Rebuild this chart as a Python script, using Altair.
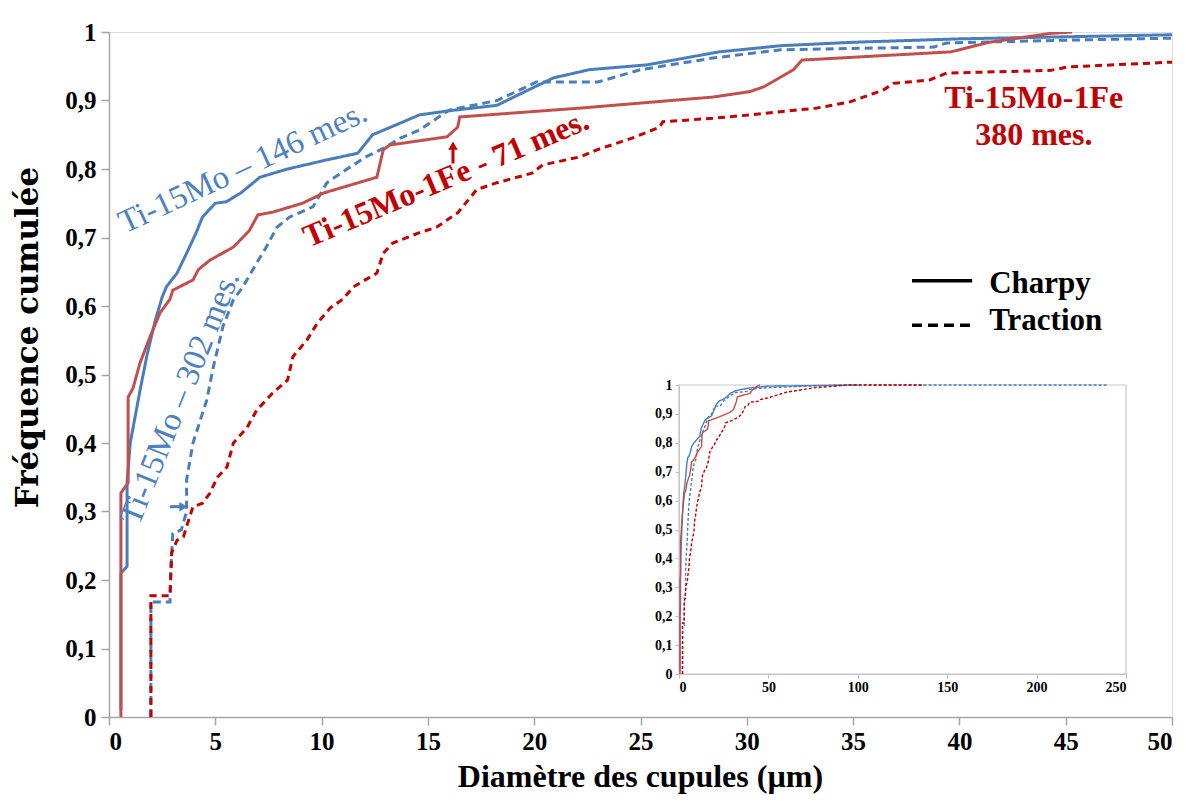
import altair as alt
import pandas as pd

# ---------------- data ----------------
bs_x = [0.56, 0.56, 0.85, 0.85, 1.0, 1.46, 1.8, 2.16, 2.5, 2.7, 3.2, 3.65, 4.1, 4.4, 5.0, 5.5, 6.2, 7.1, 8.4,
        10.2, 11.7, 12.4, 13.7, 14.6, 16.0, 18.25, 19.5, 20.9, 22.6, 25.3, 28.7, 31.6, 35, 40, 45, 50, 100]
bs_y = [0.01, 0.21, 0.22, 0.343, 0.40, 0.477, 0.53, 0.577, 0.613, 0.628, 0.648, 0.677, 0.707, 0.73, 0.75, 0.752,
        0.765, 0.788, 0.80, 0.813, 0.823, 0.85, 0.867, 0.879, 0.885, 0.893, 0.912, 0.933, 0.945, 0.952, 0.971,
        0.98, 0.985, 0.99, 0.993, 0.996, 1.0]

bd_x = [1.97, 1.97, 2.87, 2.9, 3.0, 3.4, 3.65, 3.65, 3.95, 4.6, 4.9, 5.36, 5.85, 6.3, 6.95, 7.4, 7.9, 8.5, 9.6,
        10.25, 11.2, 12.1, 12.9, 13.7, 14.6, 16.0, 18.25, 19.5, 20.1, 23.0, 25.0, 28.4, 31.6, 35, 38.8, 39.4,
        45, 50, 90, 240]
bd_y = [0.0, 0.168, 0.168, 0.21, 0.268, 0.273, 0.30, 0.346, 0.40, 0.463, 0.51, 0.57, 0.609, 0.628, 0.663,
        0.686, 0.715, 0.73, 0.745, 0.78, 0.80, 0.818, 0.83, 0.845, 0.857, 0.886, 0.90, 0.918, 0.927, 0.927,
        0.945, 0.962, 0.974, 0.976, 0.978, 0.984, 0.988, 0.991, 1.0, 1.0]

rs_x = [0.56, 0.56, 0.9, 0.9, 1.13, 1.46, 1.93, 2.4, 2.87, 3.0, 3.95, 4.2, 4.75, 5.85, 6.6, 7.0, 7.7, 9.1, 10.1,
        12.6, 12.9, 13.2, 15.9, 16.4, 16.5, 22.2, 28.4, 30.15, 30.8, 32.2, 32.6, 39.6, 41.4, 44.3, 45.3]
rs_y = [0.0, 0.327, 0.342, 0.467, 0.48, 0.517, 0.555, 0.59, 0.61, 0.623, 0.638, 0.653, 0.667, 0.686, 0.71,
        0.733, 0.737, 0.75, 0.765, 0.788, 0.828, 0.835, 0.847, 0.861, 0.876, 0.889, 0.905, 0.913, 0.92, 0.945,
        0.959, 0.971, 0.985, 0.998, 1.0]

rd_x = [1.97, 1.97, 2.87, 2.95, 3.2, 3.5, 3.7, 3.95, 4.4, 4.75, 5.1, 5.55, 5.85, 6.5, 6.95, 7.7, 8.4, 8.65, 9.3,
        9.8, 10.4, 11.0, 11.5, 12.6, 12.9, 13.35, 14.6, 15.4, 16.4, 17.3, 18.25, 19.9, 20.4, 22.2, 22.95, 24.6,
        25.9, 26.05, 28.4, 30.15, 33.3, 34.85, 36.4, 36.9, 38.6, 39.4, 44.3, 45.1, 50, 60, 75, 95, 137]
rd_y = [0.0, 0.177, 0.177, 0.24, 0.258, 0.263, 0.283, 0.307, 0.312, 0.327, 0.35, 0.365, 0.40, 0.423, 0.448,
        0.473, 0.492, 0.526, 0.55, 0.575, 0.597, 0.61, 0.628, 0.648, 0.677, 0.692, 0.707, 0.715, 0.736, 0.77,
        0.78, 0.794, 0.806, 0.818, 0.828, 0.845, 0.861, 0.869, 0.874, 0.879, 0.889, 0.898, 0.915, 0.925, 0.93,
        0.94, 0.944, 0.949, 0.956, 0.975, 0.99, 1.0, 1.0]

series = ["Ti-15Mo Charpy", "Ti-15Mo Traction", "Ti-15Mo-1Fe Charpy", "Ti-15Mo-1Fe Traction"]
series_x = [bs_x, bd_x, rs_x, rd_x]
series_y = [bs_y, bd_y, rs_y, rd_y]
series_color = ["#4a7ebb", "#4a7ebb", "#c0504d", "#c00000"]
series_dash = [[1, 0], [8, 5], [1, 0], [7, 5]]
inset_dash = [[1, 0], [3, 2], [1, 0], [3, 2]]
draw_order = [1, 0, 2, 3]  # blue dashed first

rows = []
for name, xs, ys in zip(series, series_x, series_y):
    for i, (a, b) in enumerate(zip(xs, ys)):
        rows.append({"s": name, "i": i, "x": a, "y": b})
df = pd.DataFrame(rows)

y_ticks = [round(0.1 * k, 1) for k in range(11)]
x_ticks = [0, 5, 10, 15, 20, 25, 30, 35, 40, 45, 50]
inset_x_ticks = [0, 50, 100, 150, 200, 250]

FONT = "Liberation Serif"
W, H = 1063, 685
label_expr = "datum.value == 0 ? '0' : datum.value == 1 ? '1' : replace(format(datum.value, '.1f'), '.', ',')"

# ---------------- main chart ----------------
xs_main = alt.Scale(domain=[0, 50], nice=False, zero=False)
ys_main = alt.Scale(domain=[0, 1], nice=False)
ax_x = alt.Axis(values=x_ticks, title="Diamètre des cupules (µm)", grid=False, domainColor="#a6a6a6",
                domainWidth=1.5, tickColor="#a6a6a6", tickSize=8, tickWidth=1.5, labelFont=FONT,
                labelFontSize=25, labelFontWeight="bold", labelColor="black", labelPadding=4,
                titleFont=FONT, titleFontSize=32, titleFontWeight="bold", titleColor="black",
                titleX=531, titleY=59, titleAlign="center", titleBaseline="middle")
ax_y = alt.Axis(values=y_ticks, title="Fréquence cumulée", grid=False, labelExpr=label_expr,
                domainColor="#a6a6a6", domainWidth=1.5, tickColor="#a6a6a6", tickSize=8, tickWidth=1.5,
                labelFont=FONT, labelFontSize=25, labelFontWeight="bold", labelColor="black", labelPadding=5,
                titleFont="DejaVu Serif", titleFontSize=31, titleFontWeight="bold", titleColor="black",
                titleX=-81, titleY=305, titleAngle=270, titleAlign="center", titleBaseline="middle")


def X(field="x"):
    return alt.X(f"{field}:Q", scale=xs_main, axis=ax_x)


def Y(field="y"):
    return alt.Y(f"{field}:Q", scale=ys_main, axis=ax_y)


main_layers = []
for k in draw_order:
    main_layers.append(
        alt.Chart(df).transform_filter(alt.datum.s == series[k]).mark_line(
            color=series_color[k], strokeDash=series_dash[k], strokeWidth=3, clip=True, interpolate="linear"
        ).encode(x=X(), y=Y(), order="i:Q")
    )

# annotations
ann_text = ["Ti-15Mo – 146 mes.", "Ti-15Mo – 302 mes.", "Ti-15Mo-1Fe - 71 mes."]
ann_x = [6.3, 3.34, 15.85]
ann_y = [0.802, 0.466, 0.786]
ann_angle = [335, 292, 337]
ann_size = [33, 33, 32]
ann_color = ["#4f81bd", "#4f81bd", "#c00000"]
ann_weight = ["normal", "normal", "bold"]
for t, ax_, ay_, ang, sz, col, wt in zip(ann_text, ann_x, ann_y, ann_angle, ann_size, ann_color, ann_weight):
    main_layers.append(
        alt.Chart(pd.DataFrame({"x": [ax_], "y": [ay_], "t": [t]})).mark_text(
            angle=ang, color=col, font=FONT, fontSize=sz, fontWeight=wt, align="center", baseline="middle"
        ).encode(x=X(), y=Y(), text="t:N")
    )

# Ti-15Mo-1Fe / 380 mes.
lbl_lines = ["Ti-15Mo-1Fe", "380 mes."]
lbl_x = [43.5, 43.5]
lbl_y = [0.904, 0.85]
main_layers.append(
    alt.Chart(pd.DataFrame({"x": lbl_x, "y": lbl_y, "t": lbl_lines})).mark_text(
        color="#c00000", font=FONT, fontSize=32, fontWeight="bold", align="center", baseline="middle"
    ).encode(x=X(), y=Y(), text="t:N")
)

# arrows
arrow_shaft = pd.DataFrame({"x": [2.87, 16.18], "x2": [3.45, 16.18], "y": [0.307, 0.808], "y2": [0.307, 0.83],
                            "c": ["#4a7ebb", "#c00000"]})
main_layers.append(
    alt.Chart(arrow_shaft).mark_rule(strokeWidth=3).encode(
        x=X(), x2="x2:Q", y=Y(), y2="y2:Q", color=alt.Color("c:N", scale=None))
)
arrow_head = pd.DataFrame({"x": [3.5, 16.18], "y": [0.307, 0.834], "c": ["#4a7ebb", "#c00000"],
                           "shape": ["triangle-right", "triangle-up"]})
main_layers.append(
    alt.Chart(arrow_head).mark_point(filled=True, size=90, opacity=1).encode(
        x=X(), y=Y(), color=alt.Color("c:N", scale=None), shape=alt.Shape("shape:N", scale=None))
)

# legend
leg_lab = ["Charpy", "Traction"]
leg_y = [0.637, 0.572]
leg_text_y = [0.632, 0.578]
leg_dash = [[1, 0], [10, 6]]
for lab, ly, lty, dsh in zip(leg_lab, leg_y, leg_text_y, leg_dash):
    main_layers.append(
        alt.Chart(pd.DataFrame({"x": [37.77], "x2": [40.6], "y": [ly]})).mark_rule(
            color="black", strokeWidth=3.5, strokeDash=dsh
        ).encode(x=X(), x2="x2:Q", y=Y())
    )
    main_layers.append(
        alt.Chart(pd.DataFrame({"x": [41.4], "y": [lty], "t": [lab]})).mark_text(
            color="black", font=FONT, fontSize=31, fontWeight="bold", align="left", baseline="middle"
        ).encode(x=X(), y=Y(), text="t:N")
    )

main = alt.layer(*main_layers)

# ---------------- inset ----------------
xs_in = alt.Scale(domain=[0, 250], range=[570, 1017], nice=False, zero=False)
ys_in = alt.Scale(domain=[0, 1], range=[642, 353], nice=False)
ax_xi = alt.Axis(values=inset_x_ticks, orient="bottom", offset=-43, title=None, grid=False,
                 domainColor="#bfbfbf", tickColor="#bfbfbf", tickSize=4, labelFont=FONT, labelFontSize=14,
                 labelFontWeight="bold", labelColor="black", labelPadding=2)
ax_yi = alt.Axis(values=y_ticks, orient="left", offset=-570, title=None, grid=False, labelExpr=label_expr,
                 domainColor="#bfbfbf", tickColor="#bfbfbf", tickSize=4, labelFont=FONT, labelFontSize=14,
                 labelFontWeight="bold", labelColor="black", labelPadding=3)


def XI(field="x"):
    return alt.X(f"{field}:Q", scale=xs_in, axis=ax_xi)


def YI(field="y"):
    return alt.Y(f"{field}:Q", scale=ys_in, axis=ax_yi)


inset_layers = [
    alt.Chart(pd.DataFrame({"x": [0], "x2": [250], "y": [0], "y2": [1]})).mark_rect(
        fill="white", fillOpacity=0, stroke="#c8c8c8", strokeWidth=1.2
    ).encode(x=XI(), x2="x2:Q", y=YI(), y2="y2:Q")
]
for k in draw_order:
    inset_layers.append(
        alt.Chart(df).transform_filter(alt.datum.s == series[k]).mark_line(
            color=series_color[k], strokeDash=inset_dash[k], strokeWidth=1.4
        ).encode(x=XI(), y=YI(), order="i:Q")
    )
inset = alt.layer(*inset_layers)

chart = alt.layer(main, inset).resolve_scale(x="independent", y="independent").properties(
    width=W, height=H,
    autosize=alt.AutoSizeParams(type="none"),
    padding={"left": 101, "top": 24, "right": 10, "bottom": 78},
).configure_view(stroke="#a6a6a6", strokeWidth=1.5).configure(background="white")

chart.save("out.html", embed_options={"renderer": "svg", "actions": False})
